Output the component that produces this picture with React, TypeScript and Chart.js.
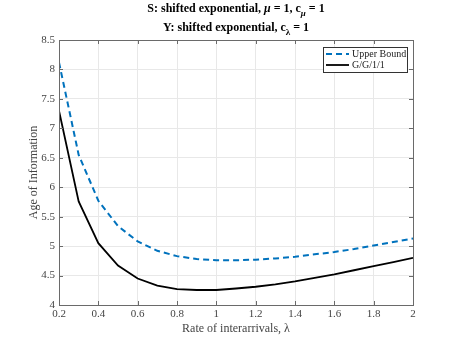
import React, { useEffect, useRef } from "react";
import { Chart, registerables } from "chart.js";
Chart.register(...registerables);

const lambdas = [0.2, 0.3, 0.4, 0.5, 0.6, 0.7, 0.8, 0.9, 1.0, 1.1, 1.2, 1.3, 1.4, 1.5, 1.6, 1.7, 1.8, 1.9, 2.0];
const upperBound = [8.12, 6.55, 5.77, 5.34, 5.08, 4.92, 4.83, 4.78, 4.76, 4.76, 4.77, 4.79, 4.82, 4.86, 4.9, 4.95, 5.01, 5.07, 5.13];
const gg11 = [7.3, 5.76, 5.05, 4.67, 4.45, 4.33, 4.27, 4.255, 4.255, 4.28, 4.31, 4.35, 4.4, 4.46, 4.52, 4.59, 4.66, 4.73, 4.8];

const xTickValues = [0.2, 0.4, 0.6, 0.8, 1, 1.2, 1.4, 1.6, 1.8, 2];
const xTickLabels = ["0.2", "0.4", "0.6", "0.8", "1", "1.2", "1.4", "1.6", "1.8", "2"];
const yTickValues = [4, 4.5, 5, 5.5, 6, 6.5, 7, 7.5, 8, 8.5];
const yTickLabels = ["4", "4.5", "5", "5.5", "6", "6.5", "7", "7.5", "8", "8.5"];

const seriesNames = ["Upper Bound", "G/G/1/1"];
const seriesColors = ["#0072BD", "#000000"];
const xTitle = "Rate of interarrivals, λ";
const yTitle = "Age of Information";

type Seg = { text: string; italic?: boolean; sub?: boolean };
const titleLine1: Seg[] = [
  { text: "S: shifted exponential, " },
  { text: "μ", italic: true },
  { text: " = 1, c" },
  { text: "μ", italic: true, sub: true },
  { text: " = 1" },
];
const titleLine2: Seg[] = [
  { text: "Y: shifted exponential, c" },
  { text: "λ", sub: true },
  { text: " = 1" },
];

const SERIF = "'Liberation Serif', 'Times New Roman', serif";

const decorPlugin = {
  id: "decor",
  afterDraw(chart: any) {
    const ctx = chart.ctx as CanvasRenderingContext2D;
    const { left, right, top, bottom } = chart.chartArea;
    const xs = chart.scales.x;
    const ys = chart.scales.y;
    ctx.save();
    // frame
    ctx.strokeStyle = "#6a6a6a";
    ctx.lineWidth = 1;
    ctx.strokeRect(Math.round(left) + 0.5, Math.round(top) + 0.5, Math.round(right - left), Math.round(bottom - top));
    // inward ticks
    const tl = 4;
    ctx.beginPath();
    xTickValues.forEach((v) => {
      const px = Math.round(xs.getPixelForValue(v)) + 0.5;
      ctx.moveTo(px, bottom);
      ctx.lineTo(px, bottom - tl);
      ctx.moveTo(px, top);
      ctx.lineTo(px, top + tl);
    });
    yTickValues.forEach((v) => {
      const py = Math.round(ys.getPixelForValue(v)) + 0.5;
      ctx.moveTo(left, py);
      ctx.lineTo(left + tl, py);
      ctx.moveTo(right, py);
      ctx.lineTo(right - tl, py);
    });
    ctx.stroke();

    // legend
    const lx = 323, ly = 47, lw = 84, lh = 25;
    ctx.fillStyle = "#ffffff";
    ctx.fillRect(lx, ly, lw, lh);
    ctx.strokeStyle = "#333333";
    ctx.lineWidth = 1;
    ctx.strokeRect(lx + 0.5, ly + 0.5, lw, lh);
    const rows = [54, 65];
    seriesNames.forEach((name, i) => {
      ctx.beginPath();
      ctx.strokeStyle = seriesColors[i];
      ctx.lineWidth = i === 0 ? 2 : 1.8;
      ctx.setLineDash(i === 0 ? [6, 4] : []);
      ctx.moveTo(326, rows[i]);
      ctx.lineTo(349, rows[i]);
      ctx.stroke();
      ctx.setLineDash([]);
      ctx.fillStyle = "#222222";
      ctx.font = `10px ${SERIF}`;
      ctx.textBaseline = "middle";
      ctx.textAlign = "left";
      ctx.fillText(name, 352, rows[i]);
    });

    // title
    const drawLine = (segs: Seg[], cy: number) => {
      const fontFor = (s: Seg) =>
        `${s.italic ? "italic " : ""}bold ${s.sub ? 9 : 12}px ${SERIF}`;
      let total = 0;
      segs.forEach((s) => {
        ctx.font = fontFor(s);
        total += ctx.measureText(s.text).width;
      });
      let x = (left + right) / 2 - total / 2;
      ctx.fillStyle = "#000000";
      ctx.textBaseline = "middle";
      ctx.textAlign = "left";
      segs.forEach((s) => {
        ctx.font = fontFor(s);
        ctx.fillText(s.text, x, cy + (s.sub ? 5 : 0));
        x += ctx.measureText(s.text).width;
      });
    };
    drawLine(titleLine1, 9);
    drawLine(titleLine2, 27.5);
    ctx.restore();
  },
};

export default function App() {
  const ref = useRef<HTMLCanvasElement>(null);
  useEffect(() => {
    if (!ref.current) return;
    const chart = new Chart(ref.current, {
      type: "line",
      data: {
        datasets: [
          {
            label: seriesNames[0],
            data: lambdas.map((x, i) => ({ x, y: upperBound[i] })),
            borderColor: seriesColors[0],
            borderWidth: 2,
            borderDash: [6, 4],
            pointRadius: 0,
            fill: false,
            tension: 0,
          },
          {
            label: seriesNames[1],
            data: lambdas.map((x, i) => ({ x, y: gg11[i] })),
            borderColor: seriesColors[1],
            borderWidth: 1.8,
            pointRadius: 0,
            fill: false,
            tension: 0,
          },
        ],
      },
      options: {
        animation: false,
        responsive: false,
        maintainAspectRatio: false,
        layout: { padding: { top: 40, right: 44, left: 0, bottom: 0 } },
        plugins: {
          legend: { display: false },
          title: { display: false },
          tooltip: { enabled: false },
        },
        scales: {
          x: {
            type: "linear",
            min: 0.2,
            max: 2,
            afterFit: (s: any) => {
              s.height = 38;
            },
            afterBuildTicks: (s: any) => {
              s.ticks = xTickValues.map((v) => ({ value: v }));
            },
            ticks: {
              autoSkip: false,
              maxRotation: 0,
              padding: 3,
              color: "#444444",
              font: { family: SERIF, size: 11 },
              callback: (v: any) => xTickLabels[xTickValues.indexOf(Number(v))],
            },
            grid: { color: "#e8e8e8", drawTicks: false },
            border: { display: false },
            title: {
              display: true,
              text: xTitle,
              color: "#444444",
              font: { family: SERIF, size: 12 },
              padding: { top: 0, bottom: 7 },
            },
          },
          y: {
            type: "linear",
            min: 4,
            max: 8.5,
            afterFit: (s: any) => {
              s.width = 59;
            },
            afterBuildTicks: (s: any) => {
              s.ticks = yTickValues.map((v) => ({ value: v }));
            },
            ticks: {
              autoSkip: false,
              padding: 4,
              color: "#444444",
              font: { family: SERIF, size: 11 },
              callback: (v: any) => yTickLabels[yTickValues.indexOf(Number(v))],
            },
            grid: { color: "#e8e8e8", drawTicks: false },
            border: { display: false },
            title: {
              display: true,
              text: yTitle,
              color: "#444444",
              font: { family: SERIF, size: 12 },
              padding: { top: 27, bottom: 0 },
            },
          },
        },
      },
      plugins: [decorPlugin],
    } as any);
    return () => chart.destroy();
  }, []);
  return (
    <div style={{ position: "fixed", left: 0, top: 0, width: 457, height: 343, background: "#fff" }}>
      <canvas ref={ref} width={457} height={343} style={{ width: 457, height: 343, display: "block" }} />
    </div>
  );
}
